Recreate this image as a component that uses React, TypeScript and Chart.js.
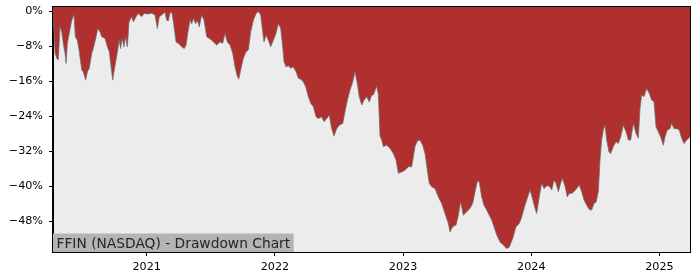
import React, { useEffect, useRef } from "react";
import { Chart, registerables } from "chart.js";

Chart.register(...registerables);

const TITLE = "FFIN (NASDAQ) - Drawdown Chart";
const X_MIN = 2020.269;
const X_MAX = 2025.238;
const Y_MIN = -55;
const Y_MAX = 1;
const YEAR_TICKS = [2021, 2022, 2023, 2024, 2025];
const PCT_TICKS = [0, -8, -16, -24, -32, -40, -48];

// time in decimal years
const T = [
  2020.269, 2020.277, 2020.285, 2020.298, 2020.31, 2020.324, 2020.337, 2020.349, 2020.363, 2020.371,
  2020.381, 2020.396, 2020.415, 2020.433, 2020.443, 2020.459, 2020.474, 2020.493, 2020.505, 2020.524,
  2020.537, 2020.552, 2020.571, 2020.583, 2020.605, 2020.618, 2020.636, 2020.649, 2020.675, 2020.693,
  2020.708, 2020.722, 2020.735, 2020.747, 2020.758, 2020.774, 2020.784, 2020.797, 2020.807, 2020.823,
  2020.833, 2020.849, 2020.862, 2020.883, 2020.896, 2020.917, 2020.934, 2020.961, 2020.979, 2021.012,
  2021.039, 2021.065, 2021.083, 2021.098, 2021.117, 2021.143, 2021.156, 2021.168, 2021.182, 2021.197,
  2021.213, 2021.229, 2021.246, 2021.273, 2021.293, 2021.307, 2021.324, 2021.338, 2021.351, 2021.364,
  2021.382, 2021.395, 2021.41, 2021.429, 2021.447, 2021.468, 2021.488, 2021.507, 2021.52, 2021.546,
  2021.572, 2021.593, 2021.611, 2021.629, 2021.65, 2021.671, 2021.689, 2021.707, 2021.718, 2021.733,
  2021.754, 2021.775, 2021.793, 2021.811, 2021.832, 2021.853, 2021.871, 2021.889, 2021.905, 2021.915,
  2021.931, 2021.949, 2021.967, 2021.988, 2022.009, 2022.027, 2022.045, 2022.061, 2022.071, 2022.087,
  2022.105, 2022.123, 2022.144, 2022.165, 2022.183, 2022.201, 2022.222, 2022.24, 2022.261, 2022.279,
  2022.3, 2022.321, 2022.339, 2022.365, 2022.383, 2022.404, 2022.424, 2022.443, 2022.461, 2022.482,
  2022.502, 2022.529, 2022.547, 2022.565, 2022.586, 2022.607, 2022.625, 2022.643, 2022.658, 2022.677,
  2022.695, 2022.716, 2022.736, 2022.755, 2022.768, 2022.794, 2022.807, 2022.82, 2022.833, 2022.846,
  2022.872, 2022.898, 2022.924, 2022.945, 2022.963, 2022.989, 2023.015, 2023.041, 2023.067, 2023.08,
  2023.093, 2023.111, 2023.132, 2023.153, 2023.171, 2023.189, 2023.204, 2023.223, 2023.249, 2023.275,
  2023.301, 2023.327, 2023.353, 2023.366, 2023.387, 2023.413, 2023.431, 2023.449, 2023.47, 2023.496,
  2023.522, 2023.543, 2023.561, 2023.579, 2023.594, 2023.613, 2023.631, 2023.652, 2023.672, 2023.691,
  2023.709, 2023.73, 2023.756, 2023.782, 2023.808, 2023.828, 2023.855, 2023.881, 2023.906, 2023.925,
  2023.951, 2023.969, 2023.99, 2024.011, 2024.029, 2024.042, 2024.062, 2024.081, 2024.099, 2024.12,
  2024.14, 2024.159, 2024.177, 2024.193, 2024.211, 2024.229, 2024.242, 2024.263, 2024.281, 2024.296,
  2024.315, 2024.333, 2024.354, 2024.374, 2024.393, 2024.411, 2024.432, 2024.452, 2024.471, 2024.489,
  2024.505, 2024.523, 2024.536, 2024.549, 2024.562, 2024.575, 2024.588, 2024.606, 2024.619, 2024.64,
  2024.661, 2024.679, 2024.697, 2024.718, 2024.739, 2024.757, 2024.775, 2024.796, 2024.817, 2024.835,
  2024.848, 2024.861, 2024.879, 2024.9, 2024.92, 2024.939, 2024.957, 2024.973, 2024.991, 2025.009,
  2025.03, 2025.043, 2025.061, 2025.082, 2025.095, 2025.113, 2025.134, 2025.154, 2025.173, 2025.191,
  2025.212, 2025.238,
];

// drawdown in percent
const DD = [
  -1.5, -5, -9.5, -10.7, -11.1, -3.5, -4.7, -7.3, -9.6, -11.9,
  -7.3, -5, -2, -0.8, -5.8, -6.6, -9.2, -13.4, -13.8, -15.7,
  -13.8, -13, -9.6, -8.5, -5.8, -3.9, -4.7, -5.8, -6.2, -8.1,
  -9.2, -12.7, -15.7, -13.4, -11.5, -8.8, -6.6, -8.5, -6.2, -8.1,
  -5.8, -8.1, -2.4, -1.2, -2.4, -1.2, -0.5, -1.2, -0.5, -0.6,
  -0.4, -0.8, -3.9, -1.2, -0.8, -0.2, -2, -2.2, -0.3, -0.3,
  -3.5, -7, -7.3, -8.1, -8.5, -7.7, -4.3, -2, -2.8, -1.6,
  -2.8, -2, -3.5, -0.8, -2, -5.8, -6.2, -6.6, -7, -7.7,
  -7, -7.3, -5, -7, -7.7, -9.6, -12.7, -14.9, -15.5, -13.4,
  -10.7, -9.2, -8.8, -4.7, -2, -0.5, 0, -0.8, -4.7, -7,
  -5.4, -6.6, -8.1, -6.6, -5, -2.8, -3.9, -8.1, -11.5, -12.7,
  -12.4, -13, -12.7, -13.8, -15.3, -15.5, -16.1, -17.2, -19.5, -21,
  -21.8, -24.1, -24.5, -24.1, -25.2, -24.5, -23.7, -26.8, -28.5, -26.8,
  -26, -25.6, -22.9, -20.3, -18, -16.1, -13.8, -16.5, -19.5, -21.4,
  -20.3, -19.5, -20.7, -19.1, -19.1, -17.1, -19, -28.5, -29.4, -30.9,
  -30.6, -31.3, -32.5, -34, -37, -36.7, -36.3, -35.5, -35.5, -33.2,
  -30.9, -29.6, -29.4, -30.6, -32.5, -36.3, -39.3, -40.1, -40.5, -42.4,
  -43.9, -46.2, -48.5, -50.4, -49.2, -48.8, -46.6, -43.5, -46.6, -45.8,
  -45, -43.9, -41.2, -38.9, -38.9, -42.4, -44.3, -45.4, -46.6, -47.7,
  -49.2, -51.1, -52.7, -53.4, -54.2, -53.9, -51.9, -49.2, -48.5, -47,
  -44.3, -42.7, -40.8, -43, -45, -46.2, -42.4, -39.3, -40.5, -39.9,
  -39.9, -40.8, -38.6, -39.3, -41.2, -39.3, -38.2, -39.9, -42.4, -41.6,
  -41.6, -41.2, -40.5, -39.7, -41.2, -43.1, -44.3, -45.3, -45.4, -43.9,
  -43.6, -41.2, -34, -29.4, -27.1, -26, -29.4, -32.1, -32.5, -30.9,
  -29.8, -30.2, -28.7, -26, -27.5, -29.4, -29.4, -25.6, -27.9, -29,
  -22.2, -19.1, -19.5, -17.6, -18.7, -20.3, -20.6, -26.4, -27.5, -28.7,
  -30.6, -28.7, -27.1, -26.8, -25.6, -26.8, -26.8, -27.1, -29, -30.2,
  -29.4, -28.7,
];

const FONT = "'DejaVu Sans', sans-serif";

export default function App() {
  const ref = useRef<HTMLCanvasElement | null>(null);

  useEffect(() => {
    document.body.style.margin = "0";
    const canvas = ref.current;
    if (!canvas) return;

    const points = T.map((t, i) => ({ x: t, y: DD[i] }));

    const framePlugin = {
      id: "frame",
      beforeDraw(chart: any) {
        const { ctx, chartArea: a } = chart;
        ctx.save();
        ctx.fillStyle = "#ffffff";
        ctx.fillRect(0, 0, chart.width, chart.height);
        ctx.fillStyle = "#ececec";
        ctx.fillRect(a.left, a.top, a.right - a.left, a.bottom - a.top);
        ctx.restore();
      },
      afterDatasetsDraw(chart: any) {
        const { ctx, chartArea: a } = chart;
        ctx.save();
        ctx.font = `13.8px ${FONT}`;
        const w = ctx.measureText(TITLE).width;
        const padX = 3.5;
        const h = 18.5;
        ctx.fillStyle = "#b4b4b4";
        ctx.fillRect(a.left, a.bottom - h, w + padX * 2, h);
        ctx.fillStyle = "#262626";
        ctx.textBaseline = "alphabetic";
        ctx.textAlign = "left";
        ctx.fillText(TITLE, a.left + padX, a.bottom - 4.5);
        ctx.restore();
      },
      afterDraw(chart: any) {
        const { ctx, chartArea: a } = chart;
        ctx.save();
        ctx.strokeStyle = "#000000";
        ctx.lineWidth = 1;
        ctx.strokeRect(
          Math.round(a.left) - 0.5,
          Math.round(a.top) - 0.5,
          Math.round(a.right - a.left) + 1,
          Math.round(a.bottom - a.top) + 1
        );
        ctx.restore();
      },
    };

    const chart = new Chart(canvas, {
      type: "line",
      data: {
        datasets: [
          {
            data: points,
            borderColor: "rgba(110,110,110,0.75)",
            borderWidth: 1,
            backgroundColor: "#b03030",
            fill: "end",
            pointRadius: 0,
            tension: 0,
          },
        ],
      },
      options: {
        animation: false,
        responsive: false,
        maintainAspectRatio: false,
        layout: { padding: { top: 7, right: 10, left: 0, bottom: 0 } },
        plugins: {
          legend: { display: false },
          tooltip: { enabled: false },
        },
        scales: {
          x: {
            type: "linear",
            min: X_MIN,
            max: X_MAX,
            afterBuildTicks: (s: any) => {
              s.ticks = YEAR_TICKS.map((v) => ({ value: v }));
            },
            afterFit: (s: any) => {
              s.height = 28;
              s.paddingLeft = 0;
              s.paddingRight = 0;
            },
            ticks: {
              color: "#000",
              font: { family: FONT, size: 11.2 },
              padding: 4,
              maxRotation: 0,
              autoSkip: false,
              callback: (v: any) => String(v),
            },
            grid: {
              drawOnChartArea: false,
              color: "#000",
              tickColor: "#000",
              tickLength: 4,
            },
            border: { display: true, color: "#000", width: 1 },
          },
          y: {
            type: "linear",
            min: Y_MIN,
            max: Y_MAX,
            afterBuildTicks: (s: any) => {
              s.ticks = PCT_TICKS.map((v) => ({ value: v }));
            },
            afterFit: (s: any) => {
              s.width = 53;
              s.paddingTop = 0;
              s.paddingBottom = 0;
            },
            ticks: {
              color: "#000",
              font: { family: FONT, size: 11.2 },
              padding: 6,
              autoSkip: false,
              callback: (v: any) => (v === 0 ? "0%" : "\u2212" + Math.abs(v) + "%"),
            },
            grid: {
              drawOnChartArea: false,
              color: "#000",
              tickColor: "#000",
              tickLength: 4,
            },
            border: { display: true, color: "#000", width: 1 },
          },
        },
      },
      plugins: [framePlugin],
    });

    return () => chart.destroy();
  }, []);

  return (
    <div style={{ position: "absolute", left: 0, top: 0, width: 700, height: 280 }}>
      <canvas ref={ref} width={700} height={280} />
    </div>
  );
}
